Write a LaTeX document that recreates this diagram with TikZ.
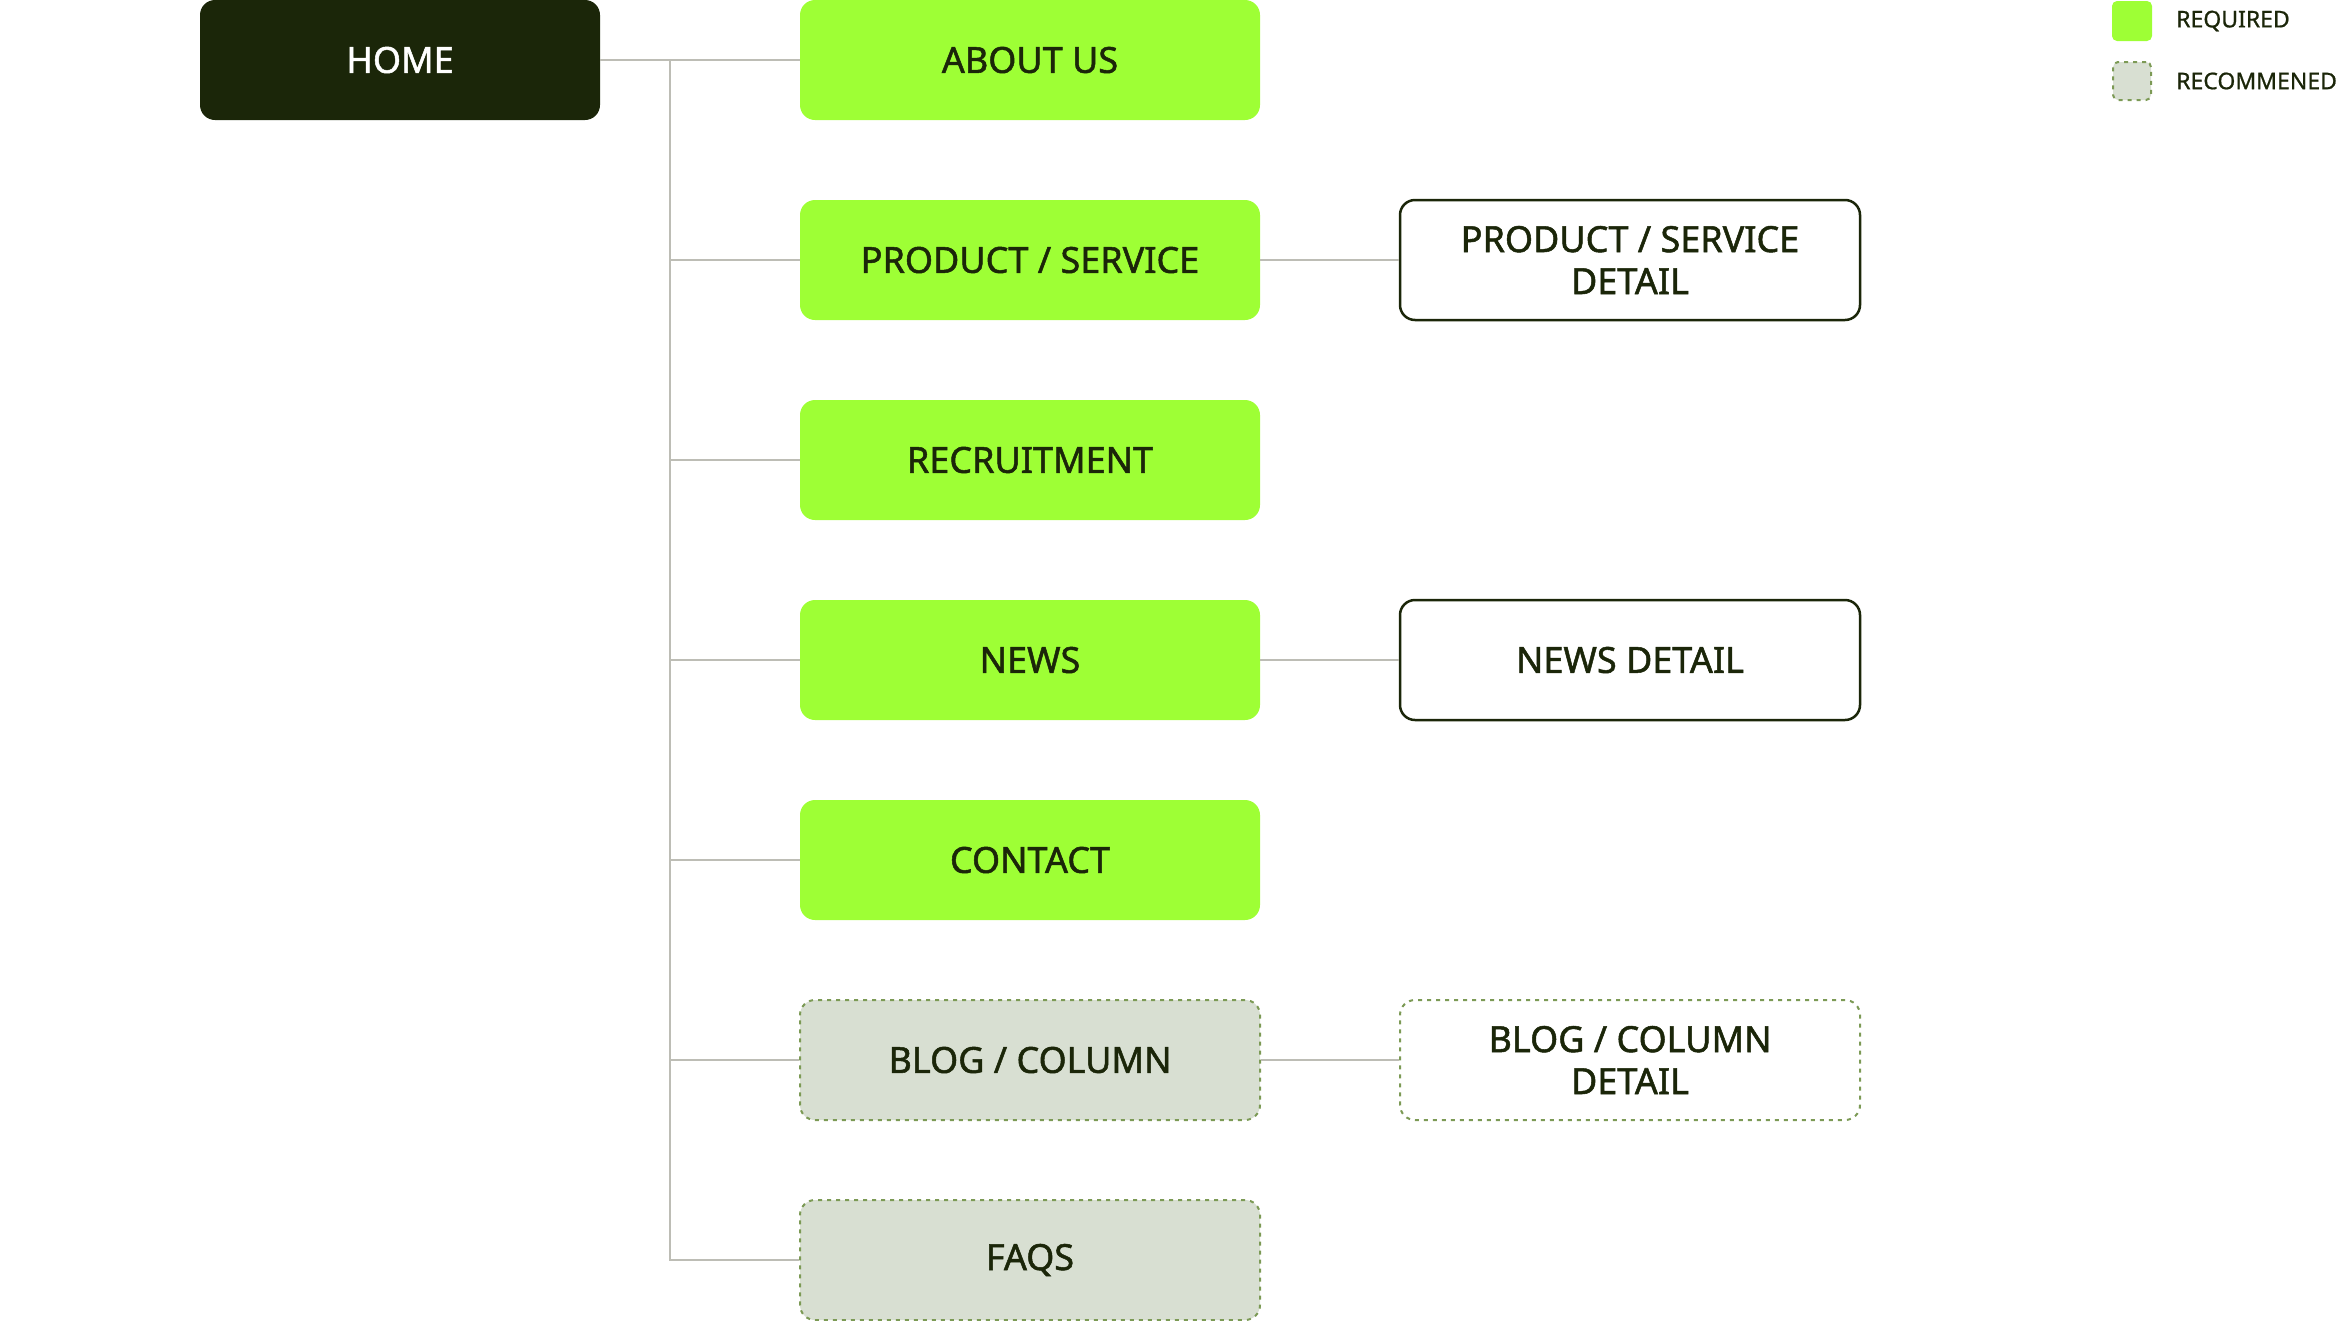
\documentclass[tikz,border=0pt]{standalone}
\usepackage{fontspec}
\setmainfont{Noto Sans}
\newfontfamily\boxfont{Noto Sans}[FakeBold=1.4]
\newfontfamily\legfont{Noto Sans}[FakeBold=0.8]
\definecolor{darkbg}{HTML}{1B2609}
\definecolor{textdark}{HTML}{1B2609}
\definecolor{reqgreen}{HTML}{9EFF35}
\definecolor{recgray}{HTML}{D8DFD2}
\definecolor{recborder}{HTML}{7C9A55}
\definecolor{connc}{HTML}{BDBDB5}
\tikzset{
  box/.style={rounded corners=15pt, minimum width=460pt, minimum height=120pt, inner sep=0pt,
    align=center, font=\boxfont\fontsize{36}{42}\selectfont, text=textdark},
  req/.style={box, fill=reqgreen},
  rec/.style={box, fill=recgray, draw=recborder, line width=2pt, dash pattern=on 4pt off 5pt},
  detail/.style={box, fill=white, draw=textdark, line width=2.5pt},
  recdetail/.style={box, fill=white, draw=recborder, line width=2pt, dash pattern=on 4pt off 5pt},
  homebox/.style={box, fill=darkbg, text=white, minimum width=400pt},
  conn/.style={draw=connc, line width=2pt},
  legtext/.style={anchor=west, font=\legfont\fontsize{23}{28}\selectfont, text=textdark, inner sep=0pt},
}
\begin{document}
\begin{tikzpicture}[x=1pt,y=-1pt]
\useasboundingbox (0,0) rectangle (2340,1320);
\node[homebox] (home) at (400,60) {HOME};
\node[req] (about) at (1030,60) {ABOUT US};
\node[req] (prod) at (1030,260) {PRODUCT / SERVICE};
\node[req] (recr) at (1030,460) {RECRUITMENT};
\node[req] (news) at (1030,660) {NEWS};
\node[req] (cont) at (1030,860) {CONTACT};
\node[rec] (blog) at (1030,1060) {BLOG / COLUMN};
\node[rec] (faqs) at (1030,1260) {FAQS};
\node[detail] (prodd) at (1630,260) {PRODUCT / SERVICE\\DETAIL};
\node[detail] (newsd) at (1630,660) {NEWS DETAIL};
\node[recdetail] (blogd) at (1630,1060) {BLOG / COLUMN\\DETAIL};
\coordinate (ttop) at (670,60);
\draw[conn] (home.east) -- (about.west);
\draw[conn] (ttop) -- (ttop |- faqs.west) -- (faqs.west);
\foreach \n in {prod,recr,news,cont,blog} \draw[conn] (ttop |- \n.west) -- (\n.west);
\draw[conn] (prod.east) -- (prodd.west);
\draw[conn] (news.east) -- (newsd.west);
\draw[conn] (blog.east) -- (blogd.west);
% legend
\node[fill=reqgreen, rounded corners=5pt, minimum size=40pt, inner sep=0pt] (lreq) at (2132,21) {};
\node[fill=recgray, draw=recborder, line width=2pt, dash pattern=on 4pt off 5pt, rounded corners=5pt, minimum size=38pt, inner sep=0pt] (lrec) at (2132,81) {};
\node[legtext] (lreqt) at (2176,21) {REQUIRED};
\node[legtext] (lrect) at (2176,81) {RECOMMENED};
\end{tikzpicture}
\end{document}
